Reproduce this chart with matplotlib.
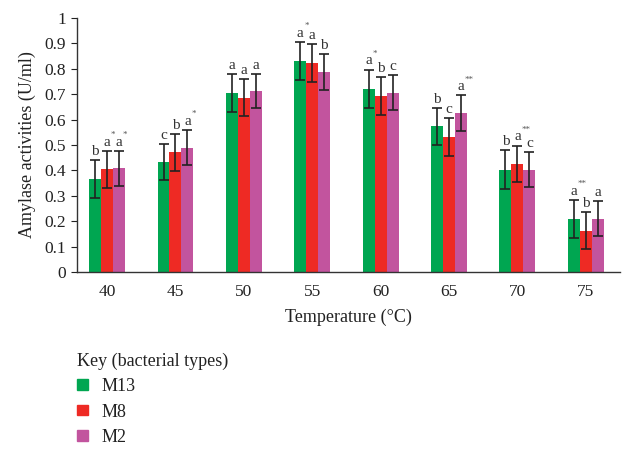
import numpy as np
import matplotlib
matplotlib.use("Agg")
import matplotlib.pyplot as plt
from matplotlib.patches import Patch

temps = ["40", "45", "50", "55", "60", "65", "70", "75"]
series = ["M13", "M8", "M2"]
colors = ["#00a651", "#ee2a24", "#c2549e"]

m13 = [0.365, 0.433, 0.705, 0.831, 0.722, 0.573, 0.403, 0.21]
m8 = [0.404, 0.471, 0.686, 0.824, 0.694, 0.532, 0.426, 0.163]
m2 = [0.408, 0.49, 0.713, 0.788, 0.706, 0.626, 0.403, 0.21]
err_m13 = [0.075, 0.072, 0.075, 0.075, 0.075, 0.074, 0.076, 0.075]
err_m8 = [0.072, 0.073, 0.072, 0.074, 0.075, 0.075, 0.072, 0.074]
err_m2 = [0.068, 0.07, 0.068, 0.07, 0.07, 0.07, 0.07, 0.07]

# significance letters and stars per bar
let_m13 = ["b", "c", "a", "a", "a", "b", "b", "a"]
let_m8 = ["a", "b", "a", "a", "b", "c", "a", "b"]
let_m2 = ["a", "a", "a", "b", "c", "a", "c", "a"]
star_m13 = ["", "", "", "*", "*", "", "", "**"]
star_m8 = ["*", "", "", "", "", "", "**", ""]
star_m2 = ["*", "*", "", "", "", "**", "", ""]

vals = [m13, m8, m2]
errs = [err_m13, err_m8, err_m2]
lets = [let_m13, let_m8, let_m2]
stars = [star_m13, star_m8, star_m2]

plt.rcParams['font.family'] = ['Liberation Serif', 'DejaVu Serif']

fig = plt.figure(figsize=(6.23, 4.5), dpi=100)
ax = fig.add_axes([77 / 623, 1 - 272 / 450, 543 / 623, 254 / 450])

x = np.arange(len(temps))
w = 0.175
for i in range(3):
    xs = x + (i - 1) * w
    ax.bar(xs, vals[i], w, color=colors[i], zorder=2)
    ax.errorbar(xs, vals[i], yerr=errs[i], fmt='none', ecolor='#222222',
                elinewidth=1.2, capsize=3.5, capthick=1.2, zorder=3)
    for j in range(len(temps)):
        top = vals[i][j] + errs[i][j]
        ax.annotate(lets[i][j], (xs[j], top), xytext=(0, 1.5),
                    textcoords='offset points', ha='center', va='bottom',
                    fontsize=11, color='#333333')
        if stars[i][j]:
            ax.annotate(stars[i][j], (xs[j], top), xytext=(2.8, 8.5),
                        textcoords='offset points', ha='left', va='bottom',
                        fontsize=6.5, color='#555555')

ax.set_xlim(-0.44, 7.5)
ax.set_ylim(0, 1)
ax.set_yticks(np.arange(0, 1.01, 0.1))
ax.set_yticklabels(["0", "0.1", "0.2", "0.3", "0.4", "0.5", "0.6", "0.7",
                    "0.8", "0.9", "1"])
ax.set_xticks(x)
ax.set_xticklabels(temps)
ax.tick_params(axis='x', length=0, pad=9, labelsize=12.5, colors='#222222')
ax.tick_params(axis='y', length=4, direction='out', labelsize=12.5,
               colors='#222222', pad=4)
for s in ['top', 'right']:
    ax.spines[s].set_visible(False)
for s in ['left', 'bottom']:
    ax.spines[s].set_color('#333333')
    ax.spines[s].set_linewidth(1.0)

ax.set_xlabel("Temperature (°C)", fontsize=13, color='#222222', labelpad=6)
ax.set_ylabel("Amylase activities (U/ml)", fontsize=13, color='#222222',
              labelpad=6)

handles = [Patch(color=c) for c in colors]
leg = fig.legend(handles, series, loc='upper left',
                 bbox_to_anchor=(61 / 623, 1 - 336 / 450), frameon=False,
                 title="Key (bacterial types)", title_fontsize=13,
                 fontsize=13, handlelength=0.6, handleheight=0.5,
                 handletextpad=0.75, labelspacing=0.47, alignment='left')
for t in leg.get_texts():
    t.set_color('#222222')
leg.get_title().set_color('#222222')

fig.savefig("out.png", dpi=100)
